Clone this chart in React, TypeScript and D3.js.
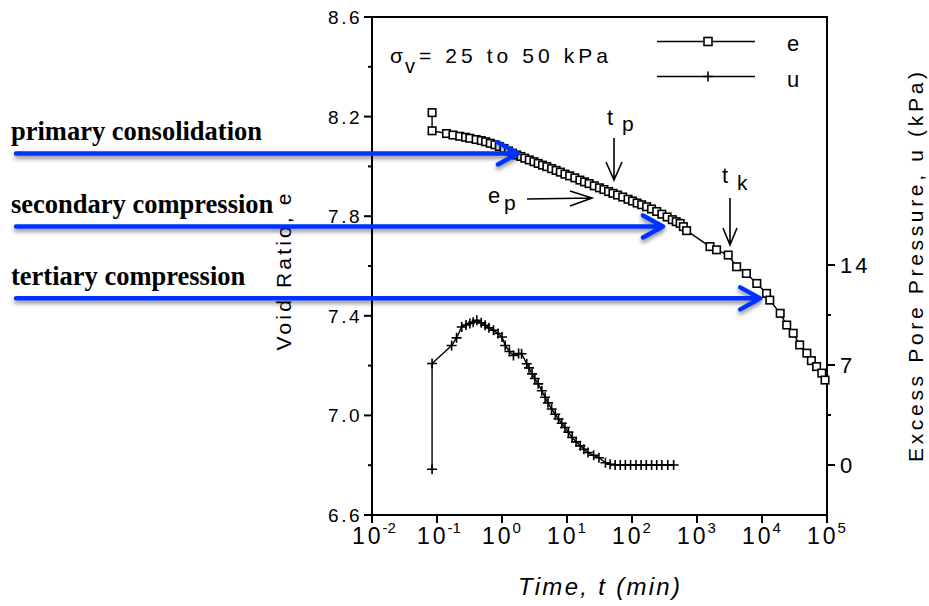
import React from 'react';
import * as d3 from 'd3';

// ---------- data ----------
const eTime = [0.084, 0.084, 0.14, 0.176, 0.224, 0.275, 0.32, 0.40, 0.48, 0.56, 0.66, 0.78, 0.91, 1.07, 1.26, 1.45, 1.68, 1.95, 2.24, 2.63, 3.1, 3.6, 4.2, 4.9, 5.8, 6.8, 7.9, 9.3, 11, 13.2, 15.8, 18.6, 21.9, 26.3, 31.6, 37, 43.6, 51, 60, 72, 87, 102, 120, 141, 168, 200, 240, 288, 347, 417, 479, 550, 617, 692, 1585, 2000, 3020, 4070, 5750, 8320, 11750, 13180, 19050, 24000, 30200, 38000, 49000, 57500, 69200, 83200, 93300];
const eVoid = [8.216, 8.143, 8.132, 8.126, 8.121, 8.117, 8.113, 8.108, 8.104, 8.099, 8.093, 8.087, 8.080, 8.072, 8.062, 8.053, 8.046, 8.040, 8.033, 8.026, 8.019, 8.012, 8.005, 7.999, 7.991, 7.984, 7.977, 7.969, 7.962, 7.954, 7.945, 7.938, 7.931, 7.922, 7.914, 7.907, 7.899, 7.892, 7.885, 7.877, 7.868, 7.861, 7.853, 7.846, 7.838, 7.829, 7.819, 7.808, 7.797, 7.786, 7.778, 7.771, 7.758, 7.742, 7.678, 7.665, 7.644, 7.597, 7.570, 7.530, 7.490, 7.463, 7.410, 7.363, 7.330, 7.283, 7.250, 7.220, 7.196, 7.170, 7.142];

const uTime = [0.084, 0.084, 0.168, 0.2, 0.24, 0.28, 0.32, 0.36, 0.41, 0.48, 0.55, 0.63, 0.74, 0.87, 1.0, 1.12, 1.3, 1.5, 1.8, 2.0, 2.4, 2.6, 2.9, 3.2, 3.6, 4.1, 4.6, 5.1, 5.8, 6.6, 7.4, 8.3, 9.3, 10.5, 12, 13.8, 16, 18.2, 21, 25.7, 31, 39, 46, 55, 66, 79, 95, 115, 138, 166, 200, 240, 288, 355, 437];
const uPressure = [-0.3, 7.1, 8.37, 8.9, 9.66, 9.8, 9.9, 10.0, 10.13, 9.95, 9.78, 9.6, 9.43, 9.2, 8.96, 8.37, 7.95, 7.67, 7.8, 7.79, 7.09, 6.8, 6.38, 6.05, 5.68, 5.2, 4.74, 4.35, 3.92, 3.55, 3.22, 2.92, 2.63, 2.3, 1.92, 1.62, 1.34, 1.1, 0.87, 0.68, 0.51, 0.16, 0.05, 0, 0, 0, 0, 0, 0, 0, 0, 0, 0, 0, 0];

const voidMajorTicks = [6.6, 7.0, 7.4, 7.8, 8.2, 8.6];
const voidMinorTicks = [6.8, 7.2, 7.6, 8.0, 8.4];
const uMajorTicks = [0, 7, 14];
const uMinorTicks = [3.5, 10.5];
const timeExponents = [-2, -1, 0, 1, 2, 3, 4, 5];

const stageLabels = ['primary consolidation', 'secondary compression', 'tertiary compression'];
// points (time, void ratio) the blue arrows point to
const stageArrowTime = [1.76, 300, 9400];
const stageArrowVoid = [8.052, 7.759, 7.470];

// ---------- layout ----------
const W = 929;
const H = 606;
const SANS = "'Liberation Sans', Arial, Helvetica, sans-serif";
const SERIF = "'Liberation Serif', 'Times New Roman', serif";
const BLUE = '#0433ff';

const x = d3.scaleLog().domain([1e-2, 1e5]).range([372, 827]);
const yE = d3.scaleLinear().domain([6.6, 8.6]).range([515, 17]);
const yU = d3.scaleLinear().domain([0, 14]).range([465, 265]);

const eLine = d3.line<number>().x((_, i) => x(eTime[i])).y((d) => yE(d));
const uLine = d3.line<number>().x((_, i) => x(uTime[i])).y((d) => yU(d));

const Square = ({ cx, cy, s = 7.5 }: { cx: number; cy: number; s?: number }) => (
  <rect x={cx - s / 2} y={cy - s / 2} width={s} height={s} fill="#fff" stroke="#000" strokeWidth={1.6} />
);
const Plus = ({ cx, cy, s = 5 }: { cx: number; cy: number; s?: number }) => (
  <path d={`M${cx - s},${cy}H${cx + s}M${cx},${cy - s}V${cy + s}`} stroke="#000" strokeWidth={1.6} fill="none" />
);

export default function App() {
  const [x0, x1] = x.range();
  const [yb, yt] = yE.range();
  return (
    <svg width={W} height={H} viewBox={`0 0 ${W} ${H}`} style={{ position: 'absolute', left: 0, top: 0, background: '#fff' }}>
      <defs>
        <filter id="shadow" filterUnits="userSpaceOnUse" x="0" y="0" width={W} height={H}>
          <feDropShadow dx="0" dy="3" stdDeviation="2" floodColor="#000" floodOpacity="0.45" />
        </filter>
      </defs>
      <rect x={0} y={0} width={W} height={H} fill="#fff" />

      {/* frame */}
      <rect x={x0} y={yt} width={x1 - x0} height={yb - yt} fill="none" stroke="#000" strokeWidth={2} />

      {/* left axis ticks */}
      {voidMajorTicks.map((v) => (
        <g key={'lm' + v}>
          <line x1={x0 - 8} x2={x0} y1={yE(v)} y2={yE(v)} stroke="#000" strokeWidth={2} />
          <text x={x0 - 10} y={yE(v) + 7} textAnchor="end" fontFamily={SANS} fontSize={19} letterSpacing={2.5}>
            {v.toFixed(1)}
          </text>
        </g>
      ))}
      {voidMinorTicks.map((v) => (
        <line key={'ln' + v} x1={x0 - 4} x2={x0} y1={yE(v)} y2={yE(v)} stroke="#000" strokeWidth={2} />
      ))}

      {/* right axis ticks */}
      {uMajorTicks.map((v) => (
        <g key={'rm' + v}>
          <line x1={x1} x2={x1 + 8} y1={yU(v)} y2={yU(v)} stroke="#000" strokeWidth={2} />
          <text x={x1 + 13} y={yU(v) + 8} fontFamily={SANS} fontSize={22} letterSpacing={3}>
            {v}
          </text>
        </g>
      ))}
      {uMinorTicks.map((v) => (
        <line key={'rn' + v} x1={x1} x2={x1 + 4} y1={yU(v)} y2={yU(v)} stroke="#000" strokeWidth={2} />
      ))}

      {/* bottom axis ticks */}
      {timeExponents.map((p) => (
        <g key={'b' + p}>
          <line x1={x(10 ** p)} x2={x(10 ** p)} y1={yb} y2={yb + 8} stroke="#000" strokeWidth={2} />
          <text x={x(10 ** p) - 20} y={544} fontFamily={SANS} fontSize={23}>
            <tspan letterSpacing={3}>10</tspan>
            <tspan fontSize={15} dy={-11} dx={-1}>
              {p < 0 ? '-' + Math.abs(p) : String(p)}
            </tspan>
          </text>
        </g>
      ))}

      {/* axis titles */}
      <text x={518} y={595} fontFamily={SANS} fontStyle="italic" fontSize={24} textLength={162} lengthAdjust="spacing">
        Time,  t  (min)
      </text>
      <text
        transform="translate(291,272) rotate(-90)"
        textAnchor="middle"
        fontFamily={SANS}
        fontSize={21}
        textLength={157}
        lengthAdjust="spacing"
      >
        Void Ratio, e
      </text>
      <text
        transform="translate(923,267) rotate(-90)"
        textAnchor="middle"
        fontFamily={SANS}
        fontSize={21}
        textLength={390}
        lengthAdjust="spacing"
      >
        Excess Pore Pressure, u (kPa)
      </text>

      {/* stress annotation */}
      <text x={390} y={63} fontFamily={SANS} fontSize={21}>σ</text>
      <text x={405} y={73} fontFamily={SANS} fontSize={20}>v</text>
      <text x={419} y={63} fontFamily={SANS} fontSize={21} textLength={189} lengthAdjust="spacing">
        = 25 to 50 kPa
      </text>

      {/* legend */}
      <line x1={657} x2={755} y1={41.5} y2={41.5} stroke="#000" strokeWidth={1.6} />
      <Square cx={708} cy={41.5} s={8} />
      <text x={787} y={51} fontFamily={SANS} fontSize={22}>e</text>
      <line x1={657} x2={755} y1={76.5} y2={76.5} stroke="#000" strokeWidth={1.6} />
      <Plus cx={708} cy={76.5} />
      <text x={787} y={87} fontFamily={SANS} fontSize={22}>u</text>

      {/* series */}
      <path d={eLine(eVoid) || ''} fill="none" stroke="#000" strokeWidth={1.4} />
      {eVoid.map((v, i) => (
        <Square key={'e' + i} cx={x(eTime[i])} cy={yE(v)} />
      ))}
      <path d={uLine(uPressure) || ''} fill="none" stroke="#000" strokeWidth={1.4} />
      {uPressure.map((v, i) => (
        <Plus key={'u' + i} cx={x(uTime[i])} cy={yU(v)} />
      ))}

      {/* t_p, t_k, e_p annotations */}
      <text x={607} y={125} fontFamily={SANS} fontSize={22}>t</text>
      <text x={622} y={131} fontFamily={SANS} fontSize={21}>p</text>
      <path d="M614,138V180M606,162L614,180L622,162" fill="none" stroke="#000" strokeWidth={1.6} />
      <text x={722} y={183} fontFamily={SANS} fontSize={22}>t</text>
      <text x={737} y={190} fontFamily={SANS} fontSize={21}>k</text>
      <path d="M730,198V245M723,228L730,245L737,228" fill="none" stroke="#000" strokeWidth={1.6} />
      <text x={488} y={203} fontFamily={SANS} fontSize={22}>e</text>
      <text x={504} y={210} fontFamily={SANS} fontSize={21}>p</text>
      <path d="M527,199L592,198M570,191L592,198L570,206" fill="none" stroke="#000" strokeWidth={1.6} />

      {/* stage labels with blue arrows */}
      {stageLabels.map((s, i) => {
        const tx = x(stageArrowTime[i]);
        const ty = yE(stageArrowVoid[i]);
        return (
          <g key={s}>
            <text x={11} y={ty - 13} fontFamily={SERIF} fontWeight="bold" fontSize={26.5}>
              {s}
            </text>
            <g filter="url(#shadow)">
              <path
                d={`M16,${ty}H${tx - 2}M${tx - 20},${ty - 11}L${tx},${ty}L${tx - 20},${ty + 11}`}
                fill="none"
                stroke={BLUE}
                strokeWidth={4.5}
                strokeLinejoin="round"
                strokeLinecap="round"
              />
            </g>
          </g>
        );
      })}
    </svg>
  );
}
